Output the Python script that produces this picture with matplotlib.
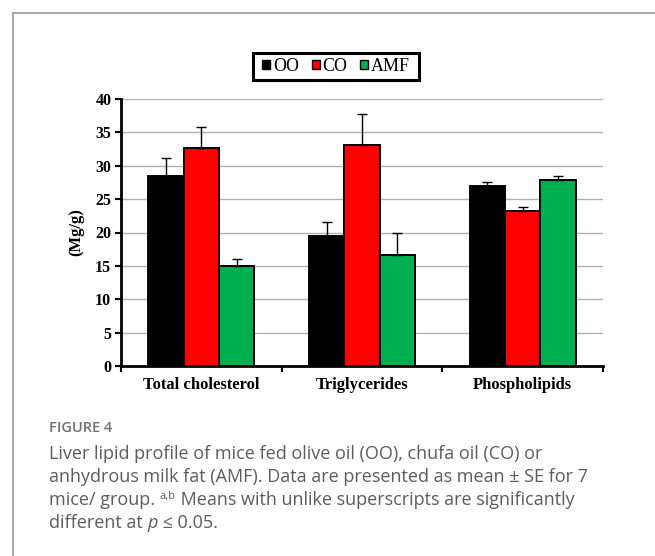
import numpy as np
import matplotlib
matplotlib.use("Agg")
import matplotlib.pyplot as plt
from matplotlib.lines import Line2D
from matplotlib.patches import Patch, Rectangle

categories = ["Total cholesterol", "Triglycerides", "Phospholipids"]
groups = ["OO", "CO", "AMF"]
oo_mean = [28.5, 19.5, 27.0]
co_mean = [32.6, 33.1, 23.2]
amf_mean = [15.0, 16.6, 27.8]
oo_se = [2.6, 2.0, 0.6]
co_se = [3.2, 4.7, 0.6]
amf_se = [1.1, 3.4, 0.6]
colors = ["#000000", "#ff0000", "#00b050"]
y_ticks = [0, 5, 10, 15, 20, 25, 30, 35, 40]

serif = ["Liberation Serif", "DejaVu Serif"]
sans = ["Open Sans", "DejaVu Sans"]

W, H = 655, 556
fig = plt.figure(figsize=(W / 100, H / 100), dpi=100)

# outer panel frame (open at right and bottom)
fig.add_artist(Line2D([13 / W, 13 / W], [0, 1 - 13 / H], transform=fig.transFigure,
                      color="#9a9a9a", lw=1.2))
fig.add_artist(Line2D([13 / W, 1], [1 - 13 / H, 1 - 13 / H], transform=fig.transFigure,
                      color="#9a9a9a", lw=1.2))

ax = fig.add_axes([121 / W, 1 - 366 / H, 482 / W, 267 / H])

x = np.arange(len(categories))
w = 0.22
means = [oo_mean, co_mean, amf_mean]
ses = [oo_se, co_se, amf_se]
for i, (m, s, c) in enumerate(zip(means, ses, colors)):
    pos = x + (i - 1) * w
    ax.bar(pos, m, width=w, color=c, edgecolor="black", linewidth=1.4, zorder=3)
    ax.errorbar(pos, m, yerr=[np.zeros(len(s)), s], fmt="none", ecolor="black",
                elinewidth=1.0, capsize=3.5, capthick=1.0, zorder=4)

ax.set_xlim(-0.5, 2.5)
ax.set_ylim(0, 40)
ax.set_yticks(y_ticks)
ax.set_yticklabels([str(t) for t in y_ticks], fontfamily=serif, fontweight="bold", fontsize=11.5)
ax.set_xticks(x)
ax.set_xticklabels(categories, fontfamily=serif, fontweight="bold", fontsize=12)
ax.tick_params(axis="x", which="major", length=0, pad=8)
ax.set_xticks([-0.5, 0.5, 1.5, 2.5], minor=True)
ax.tick_params(axis="x", which="minor", length=4, width=1.5, direction="out")
ax.tick_params(axis="y", length=4, width=1.5, direction="out", pad=3)
ax.yaxis.grid(True, color="#b0b0b0", lw=1.0, zorder=0)
ax.set_axisbelow(True)
for side in ["top", "right"]:
    ax.spines[side].set_visible(False)
for side in ["left", "bottom"]:
    ax.spines[side].set_linewidth(2.0)
ax.set_ylabel("(Mg/g)", fontfamily=serif, fontweight="bold", fontsize=12, labelpad=8)

handles = [Patch(facecolor=c, edgecolor="black", linewidth=1.0) for c in colors]
leg = fig.legend(handles, groups, loc="center", bbox_to_anchor=(336 / W, 1 - 66.5 / H),
                 ncol=3, frameon=False, prop={"family": serif, "size": 13},
                 handlelength=0.45, handleheight=0.45, handletextpad=0.15,
                 columnspacing=0.7, borderpad=0.0)

fig.canvas.draw()
renderer = fig.canvas.get_renderer()

# legend frame
lb = leg.get_window_extent(renderer=renderer)
padx, pady = 9, 5
fig.add_artist(Rectangle(((lb.x0 - padx) / W, (lb.y0 - pady) / H),
                         (lb.width + 2 * padx) / W, (lb.height + 2 * pady) / H,
                         transform=fig.transFigure, fill=False, edgecolor="black",
                         linewidth=2.2))

# caption
cap_color = "#5c5c5c"
fig.text(49 / W, 1 - 428 / H, "FIGURE 4", fontfamily=sans, fontsize=10.5,
         fontweight="semibold", color="#707070", va="center", ha="left")


def run_pieces(pieces, y_px, x0_px=49):
    xp = x0_px
    for txt, kw in pieces:
        kw = dict(kw)
        dy = kw.pop("dy", 0)
        t = fig.text(xp / W, 1 - (y_px - dy) / H, txt, fontfamily=sans, color=cap_color,
                     va="center", ha="left", **kw)
        bb = t.get_window_extent(renderer=renderer)
        xp += bb.width


fs = 13
lines_y = [454, 477, 500, 523]
run_pieces([("Liver lipid profile of mice fed olive oil (OO), chufa oil (CO) or",
             {"fontsize": fs})], lines_y[0])
run_pieces([("anhydrous milk fat (AMF). Data are presented as mean \u00b1 SE for 7",
             {"fontsize": fs})], lines_y[1])
run_pieces([("mice/ group. ", {"fontsize": fs}),
            ("a,b", {"fontsize": 8, "dy": 4}),
            (" Means with unlike superscripts are significantly", {"fontsize": fs})],
           lines_y[2])
run_pieces([("different at ", {"fontsize": fs}),
            ("p", {"fontsize": fs, "style": "italic"}),
            (" \u2264 0.05.", {"fontsize": fs})],
           lines_y[3])

fig.savefig("out.png", dpi=100)
